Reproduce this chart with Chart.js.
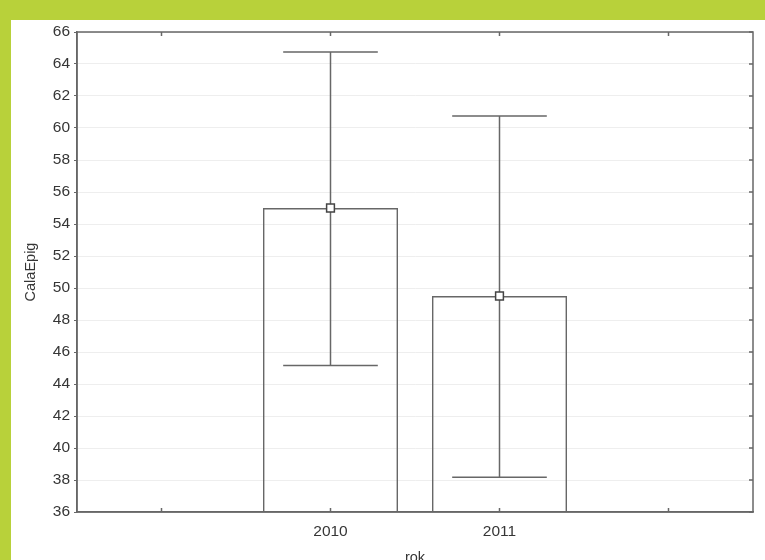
<!DOCTYPE html>
<html>
<head>
<meta charset="utf-8">
<script src="https://cdn.jsdelivr.net/npm/chart.js@4.4.1/dist/chart.umd.min.js"></script>
<style>
  html, body { margin: 0; padding: 0; width: 765px; height: 560px; overflow: hidden; background: #b8d13a; }
  #panel { position: absolute; left: 11px; top: 20px; width: 754px; height: 540px; background: #ffffff; }
  #wrap { position: absolute; left: 0; top: 0; width: 765px; height: 580px; }
</style>
</head>
<body>
<div id="panel"></div>
<div id="wrap"><canvas id="c"></canvas></div>
<script>
// Category slots: empty outer slots pad the two years inside the frame
const categories = ['', '2010', '2011', ''];
// Mean of CalaEpig per year
const means = [null, 55.0, 49.5, null];
// Whisker ends (lower / upper) per year
const whiskerLow = [null, 45.15, 38.17, null];
const whiskerHigh = [null, 64.75, 60.75, null];
// Value axis range and step
const yMin = 36, yMax = 66, yStep = 2;

const lineColor = '#676767';
const textColor = '#363636';
const fontFamily = 'Liberation Sans, Arial, sans-serif';

// Whiskers drawn right after the bars, so the mean markers sit on top
const whiskers = {
  id: 'whiskers',
  afterDatasetDraw(chart, args) {
    if (args.index !== 0) return;
    const ctx = chart.ctx;
    const y = chart.scales.y;
    const meta = chart.getDatasetMeta(0);
    ctx.save();
    ctx.strokeStyle = lineColor;
    ctx.lineWidth = 1.5;
    meta.data.forEach((bar, i) => {
      if (whiskerLow[i] == null) return;
      const x = bar.x;
      const half = bar.width * 0.35;
      const yl = y.getPixelForValue(whiskerLow[i]);
      const yh = y.getPixelForValue(whiskerHigh[i]);
      ctx.beginPath();
      ctx.moveTo(x, yl); ctx.lineTo(x, yh);
      ctx.moveTo(x - half, yl); ctx.lineTo(x + half, yl);
      ctx.moveTo(x - half, yh); ctx.lineTo(x + half, yh);
      ctx.stroke();
    });
    ctx.restore();
  }
};

// Closed frame with inward tick marks on the top, right and bottom edges
const frame = {
  id: 'frame',
  afterDraw(chart) {
    const {ctx, chartArea: a, scales} = chart;
    ctx.save();
    ctx.strokeStyle = lineColor;
    ctx.lineWidth = 1.5;
    ctx.strokeRect(a.left, a.top, a.right - a.left, a.bottom - a.top);
    ctx.beginPath();
    scales.x.ticks.forEach((t, i) => {
      const px = scales.x.getPixelForTick(i);
      ctx.moveTo(px, a.top); ctx.lineTo(px, a.top + 4);
      ctx.moveTo(px, a.bottom); ctx.lineTo(px, a.bottom - 4);
    });
    scales.y.ticks.forEach((t, i) => {
      const py = scales.y.getPixelForTick(i);
      ctx.moveTo(a.right, py); ctx.lineTo(a.right - 4, py);
    });
    ctx.stroke();
    ctx.restore();
  }
};

new Chart(document.getElementById('c'), {
  data: {
    labels: categories,
    datasets: [
      {
        type: 'bar',
        data: means,
        order: 2,
        backgroundColor: 'rgba(255,255,255,0)',
        borderColor: lineColor,
        borderWidth: 1.5,
        borderSkipped: 'start',
        barPercentage: 0.8,
        categoryPercentage: 1.0
      },
      {
        type: 'line',
        data: means,
        order: 1,
        showLine: false,
        pointStyle: 'rect',
        pointRadius: 5.5,
        pointBackgroundColor: '#ffffff',
        pointBorderColor: '#444444',
        pointBorderWidth: 1.5
      }
    ]
  },
  options: {
    responsive: true,
    maintainAspectRatio: false,
    animation: false,
    layout: { padding: { left: 0, top: 32, right: 12, bottom: 0 } },
    plugins: { legend: { display: false }, tooltip: { enabled: false } },
    scales: {
      x: {
        type: 'category',
        afterFit(s) { s.height = 68; },
        grid: { drawOnChartArea: false, drawTicks: false },
        border: { display: true, color: lineColor, width: 1.5 },
        ticks: { color: textColor, font: { family: fontFamily, size: 15.5 }, padding: 10 },
        title: { display: true, text: 'rok', color: textColor, padding: { top: 0, bottom: 13 },
                 font: { family: fontFamily, size: 14.5 } }
      },
      y: {
        min: yMin,
        max: yMax,
        afterFit(s) { s.width = 77; },
        afterBuildTicks(s) {
          const t = [];
          for (let v = yMin; v <= yMax; v += yStep) t.push({ value: v });
          s.ticks = t;
        },
        grid: { color: '#eeeeee', lineWidth: 1, tickColor: lineColor, tickLength: 3 },
        border: { display: true, color: lineColor, width: 1.5 },
        ticks: { color: textColor, font: { family: fontFamily, size: 15.5 }, padding: 4 },
        title: { display: true, text: 'CalaEpig', color: textColor, padding: { top: 22, bottom: 0 },
                 font: { family: fontFamily, size: 14.5 } }
      }
    }
  },
  plugins: [whiskers, frame]
});
</script>
</body>
</html>
